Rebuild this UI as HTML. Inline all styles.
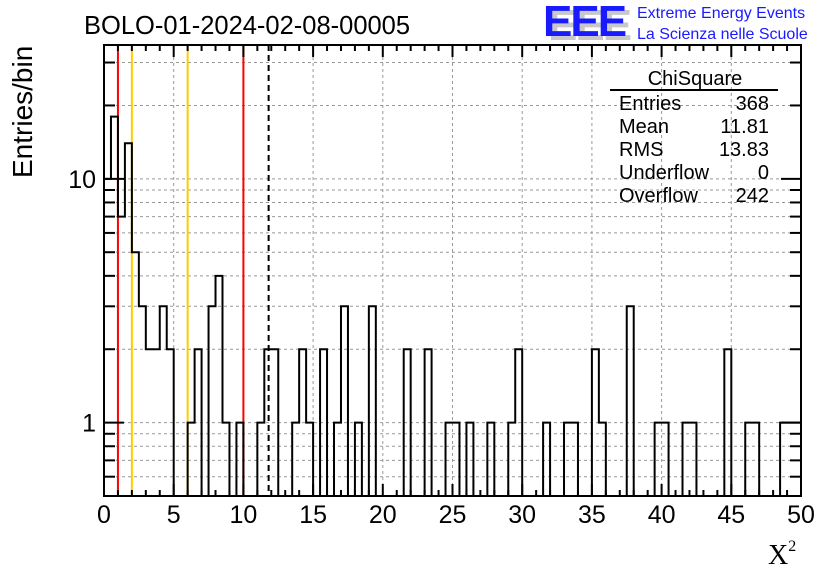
<!DOCTYPE html>
<html><head><meta charset="utf-8"><style>
body{margin:0;background:#fff;}
svg{display:block;font-family:"Liberation Sans",sans-serif;}
</style></head><body>
<svg id="chart" width="836" height="572" viewBox="0 0 836 572" xmlns="http://www.w3.org/2000/svg">
<text x="84" y="34" font-size="25.5">BOLO-01-2024-02-08-00005</text>
<g>
<text x="548" y="40" font-size="44" font-weight="bold" fill="#c8c8c8" letter-spacing="-2">EEE</text>
<text x="543" y="36" font-size="44" font-weight="bold" fill="#1a1aff" letter-spacing="-2">EEE</text>
<text x="637" y="18" font-size="16" fill="#1a1aff">Extreme Energy Events</text>
<text x="637" y="39" font-size="16" fill="#1a1aff">La Scienza nelle Scuole</text>
</g>
<g id="grid"></g>
<g id="vlines"></g>
<path id="hist" fill="none" stroke="#000" stroke-width="2"/>
<g id="axes"></g>
<text transform="translate(32,178) rotate(-90)" font-size="28">Entries/bin</text>
<text x="768" y="564" font-size="28" font-family="Liberation Serif,serif">X<tspan font-size="16" dy="-13">2</tspan></text>
<g font-size="20">
<text x="695" y="85" text-anchor="middle" font-size="20">ChiSquare</text>
<line x1="610" y1="90" x2="778" y2="90" stroke="#000" stroke-width="2"/>
<text x="619" y="110">Entries</text><text x="769" y="110" text-anchor="end">368</text>
<text x="619" y="133">Mean</text><text x="769" y="133" text-anchor="end">11.81</text>
<text x="619" y="156">RMS</text><text x="769" y="156" text-anchor="end">13.83</text>
<text x="619" y="179">Underflow</text><text x="769" y="179" text-anchor="end">0</text>
<text x="619" y="202">Overflow</text><text x="769" y="202" text-anchor="end">242</text>
</g>
</svg>
<script>
const binLow = 0, binWidth = 0.5;
const counts = [10,18,7,14,5,3,2,2,3,2, 0,0,1,2,0,3,4,1,0,1, 0,0,1,2,2,0,0,1,2,1, 0,2,0,1,3,0,1,0,3,0, 0,0,0,2,0,0,2,0,0,1, 1,0,1,0,0,1,0,0,1,2, 0,0,0,1,0,0,1,1,0,0, 2,1,0,0,0,3,0,0,0,1, 1,0,0,1,1,0,0,0,0,2, 0,0,1,1,0,0,0,1,1,1];
const xTicks = [0,5,10,15,20,25,30,35,40,45,50];
const yMajor = [1,10];
const yMinor = [0.6,0.7,0.8,0.9,2,3,4,5,6,7,8,9,20,30];
const redLines = [1,10];
const yellowLines = [2,6];
const meanLine = [11.81];
const X0=104,X1=801,Y0=45,Y1=496;
const sx=v=>X0+(v-0)/(50-0)*(X1-X0);
const yMin=0.5, yMax=35.4;
const sy=v=>Y1-(Math.log10(v)-Math.log10(yMin))/(Math.log10(yMax)-Math.log10(yMin))*(Y1-Y0);
const NS='http://www.w3.org/2000/svg';
function mk(parent,tag,attrs){const e=document.createElementNS(NS,tag);for(const k in attrs)e.setAttribute(k,attrs[k]);parent.appendChild(e);return e;}
const grid=document.getElementById('grid');
xTicks.slice(1,-1).forEach(v=>{const l=mk(grid,'line',{x1:sx(v),x2:sx(v),y1:Y0,y2:Y1,stroke:'#999','stroke-dasharray':'3,3'});

});
yMajor.concat(yMinor).forEach(v=>{const l=mk(grid,'line',{x1:X0,x2:X1,y1:sy(v),y2:sy(v),stroke:'#999','stroke-dasharray':'3,3'});

});
const vl=document.getElementById('vlines');
redLines.forEach(v=>{const l=mk(vl,'line',{x1:sx(v),x2:sx(v),y1:Y0,y2:Y1,stroke:'#f00','stroke-width':2});

});
yellowLines.forEach(v=>{const l=mk(vl,'line',{x1:sx(v),x2:sx(v),y1:Y0,y2:Y1,stroke:'#fc0','stroke-width':2});

});
meanLine.forEach(v=>{const l=mk(vl,'line',{x1:sx(v),x2:sx(v),y1:Y0,y2:Y1,stroke:'#000','stroke-width':2,'stroke-dasharray':'6,4'});

});
let d='';
counts.forEach((c,i)=>{const xa=sx(binLow+i*binWidth),xb=sx(binLow+(i+1)*binWidth);const y=c>0?Math.max(sy(c),Y0):Y1;
if(i===0)d+='M'+xa+','+Y1;d+=' L'+xa+','+y+' L'+xb+','+y;});
d+=' L'+X1+','+Y1;
document.getElementById('hist').setAttribute('d',d);
const ax=document.getElementById('axes');
mk(ax,'rect',{x:X0,y:Y0,width:X1-X0,height:Y1-Y0,fill:'none',stroke:'#000','stroke-width':2});
for(let v=0;v<=50;v+=1){const major=v%5===0;const len=major?12:6;
mk(ax,'line',{x1:sx(v),x2:sx(v),y1:Y1,y2:Y1-len,stroke:'#000','stroke-width':2});
mk(ax,'line',{x1:sx(v),x2:sx(v),y1:Y0,y2:Y0+len,stroke:'#000','stroke-width':2});}
xTicks.forEach(v=>{const t=mk(ax,'text',{x:sx(v),y:523,'font-size':25,'text-anchor':'middle'});t.textContent=v;

});
yMajor.forEach(v=>{mk(ax,'line',{x1:X0,x2:X0+20,y1:sy(v),y2:sy(v),stroke:'#000','stroke-width':2});
mk(ax,'line',{x1:X1,x2:X1-20,y1:sy(v),y2:sy(v),stroke:'#000','stroke-width':2});
const t=mk(ax,'text',{x:X0-8,y:sy(v)+9,'font-size':25,'text-anchor':'end'});t.textContent=v;

});
yMinor.forEach(v=>{mk(ax,'line',{x1:X0,x2:X0+11,y1:sy(v),y2:sy(v),stroke:'#000','stroke-width':2});
mk(ax,'line',{x1:X1,x2:X1-11,y1:sy(v),y2:sy(v),stroke:'#000','stroke-width':2});});
</script>
</body></html>
